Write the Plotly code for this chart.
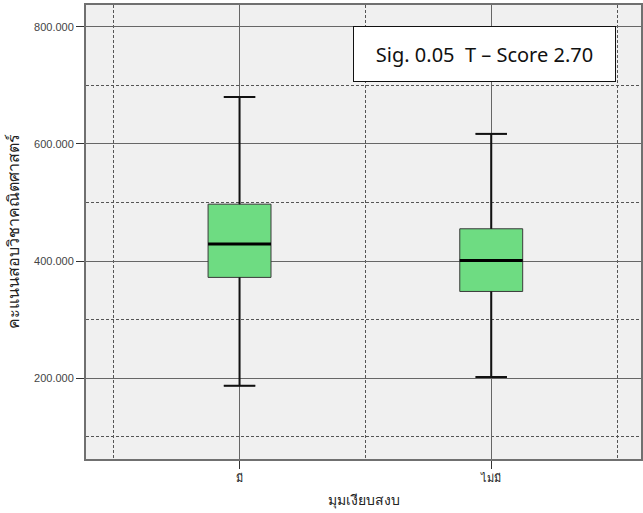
import plotly.graph_objects as go

# Summary statistics of math scores by group
groups = ["มี", "ไม่มี"]
upper_whisker = [680, 617]
q3 = [497, 455]
median = [429, 401]
q1 = [372, 348]
lower_whisker = [187, 202]

y_ticks = [200, 400, 600, 800]
y_minor_ticks = [100, 300, 500, 700]

note_text = "Sig. 0.05  T – Score 2.70"
x_title = "มุมเงียบสงบ"
y_title = "คะแนนสอบวิชาคณิตศาสตร์"

pos = list(range(len(groups)))
box_w = 0.25
cap_w = box_w * 0.5

fig = go.Figure()
# box body (thin grey outline)
fig.add_trace(go.Box(
    x=pos,
    q1=q1, median=median, q3=q3,
    lowerfence=lower_whisker, upperfence=upper_whisker,
    fillcolor="rgb(110,220,130)",
    line=dict(color="#3a3a3a", width=1),
    width=box_w,
    whiskerwidth=0.5,
    boxpoints=False,
    hoverinfo="skip",
    showlegend=False,
))

# heavier whiskers and caps
wx, wy = [], []
for p, lo, a, b, hi in zip(pos, lower_whisker, q1, q3, upper_whisker):
    wx += [p, p, None, p, p, None,
           p - cap_w / 2, p + cap_w / 2, None, p - cap_w / 2, p + cap_w / 2, None]
    wy += [lo, a, None, b, hi, None, lo, lo, None, hi, hi, None]
fig.add_trace(go.Scatter(x=wx, y=wy, mode="lines",
                         line=dict(color="#111111", width=2),
                         hoverinfo="skip", showlegend=False))

# thick median lines
mx, my = [], []
for p, m in zip(pos, median):
    mx += [p - box_w / 2, p + box_w / 2, None]
    my += [m, m, None]
fig.add_trace(go.Scatter(x=mx, y=my, mode="lines",
                         line=dict(color="#000000", width=3),
                         hoverinfo="skip", showlegend=False))

grid_col = "#666666"
dot_col = "#555555"
fig.update_layout(
    width=643, height=513,
    margin=dict(l=86, r=0, t=5, b=54),
    paper_bgcolor="white",
    plot_bgcolor="#f0f0f0",
    font=dict(family="Liberation Sans, Arial, sans-serif", color="#333333"),
    xaxis=dict(
        range=[-0.61, 1.595],
        tickvals=pos, ticktext=groups,
        ticks="outside", ticklen=8, tickcolor="#333333", tickwidth=1,
        tickfont=dict(size=11, color="#222222"),
        showgrid=True, gridcolor=grid_col, gridwidth=1,
        minor=dict(tickvals=[-0.5, 0.5, 1.5], showgrid=True, griddash="3px,2px",
                   gridcolor=dot_col, gridwidth=1, ticks=""),
        showline=True, linecolor="#707070", linewidth=2, mirror=True,
        zeroline=False,
        title=dict(text=x_title, font=dict(size=14, color="#222222"), standoff=12),
    ),
    yaxis=dict(
        range=[62, 837],
        tickvals=y_ticks, tickformat=".3f",
        ticks="outside", ticklen=8, tickcolor="#333333", tickwidth=1,
        tickfont=dict(size=11, color="#444444"),
        showgrid=True, gridcolor=grid_col, gridwidth=1,
        minor=dict(tickvals=y_minor_ticks, showgrid=True, griddash="3px,2px",
                   gridcolor=dot_col, gridwidth=1, ticks=""),
        showline=True, linecolor="#707070", linewidth=2, mirror=True,
        zeroline=False,
        title=dict(text=y_title, font=dict(size=16, color="#222222"), standoff=10),
    ),
    annotations=[dict(
        x=0.972, y=754, xref="x", yref="y",
        text=note_text, showarrow=False,
        font=dict(family="Noto Sans, sans-serif", size=20, color="#111111"),
        bgcolor="white", bordercolor="#111111", borderwidth=1,
        borderpad=4, width=253, height=46,
    )],
)

fig.write_html("out.html")
